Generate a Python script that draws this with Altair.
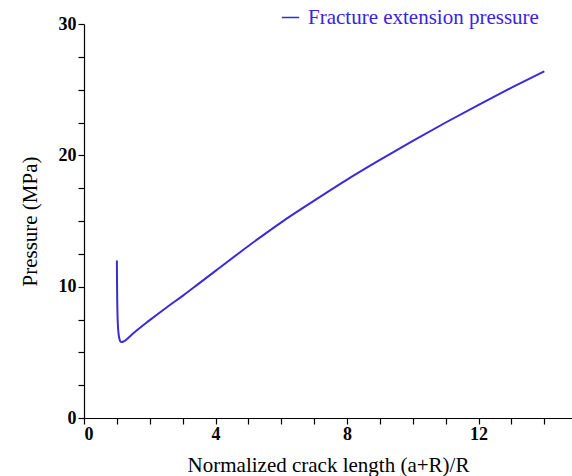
import altair as alt
import pandas as pd

# Normalized crack length (a+R)/R and the fracture extension pressure (MPa)
crack_length = [1.0, 1.005, 1.01, 1.02, 1.03, 1.05, 1.08, 1.12, 1.16, 1.22, 1.3, 1.5,
                2.0, 2.5, 3.0, 3.5, 4.0, 5.0, 6.0, 7.0, 8.0, 9.0, 10.0, 11.0,
                12.0, 13.0, 14.0]
pressure = [12.0, 10.2, 9.0, 7.8, 7.1, 6.45, 6.0, 5.8, 5.78, 5.85, 6.0, 6.45,
            7.45, 8.4, 9.3, 10.25, 11.2, 13.1, 14.9, 16.55, 18.15, 19.65, 21.1, 22.5,
            23.85, 25.15, 26.4]
series = ["Fracture extension pressure"] * len(crack_length)

df = pd.DataFrame({"x": crack_length, "p": pressure, "s": series})

x_ticks = list(range(0, 15))
y_ticks = [i * 2.5 for i in range(13)]

line_color = "#3a2ad8"
font = "Liberation Serif"

chart = alt.Chart(df).mark_line(strokeWidth=2, clip=True, interpolate="monotone").encode(
    x=alt.X("x:Q", scale=alt.Scale(domain=[0, 14.84], nice=False, zero=False),
            axis=alt.Axis(values=x_ticks,
                          labelExpr="datum.value % 4 == 0 ? datum.label : ''",
                          title="Normalized crack length (a+R)/R",
                          ticks=True, tickColor="black", tickOpacity=1,
                          grid=False, tickSize=6, labelPadding=1, titlePadding=11)),
    y=alt.Y("p:Q", scale=alt.Scale(domain=[0, 30], nice=False),
            axis=alt.Axis(values=y_ticks,
                          labelExpr="datum.value % 10 == 0 ? datum.label : ''",
                          title="Pressure (MPa)",
                          ticks=True, tickColor="black", tickOpacity=1,
                          grid=False, tickSize=6, labelPadding=2, titlePadding=18)),
    color=alt.Color("s:N", scale=alt.Scale(range=[line_color]),
                    legend=alt.Legend(title=None, orient="none", legendX=196, legendY=-17,
                                      symbolType="stroke", symbolSize=300,
                                      symbolStrokeWidth=1.5, labelFontSize=21,
                                      labelFont=font, labelColor="#3a22e0",
                                      labelLimit=400, labelOffset=7, padding=0)),
    order=alt.Order("x:Q"),
).properties(
    width=488, height=394,
    background="white",
    autosize=alt.AutoSizeParams(type="none"),
    padding={"left": 84, "top": 24, "right": 0, "bottom": 58},
).configure_view(stroke=None).configure_axis(
    domainColor="#000", labelColor="#000", titleColor="#000",
    labelFont=font, titleFont=font, labelFontSize=18, titleFontSize=21,
    labelFontWeight="bold", titleFontWeight="normal", domainWidth=1.2, tickWidth=1.2,
)

chart.save("out.html", embed_options={"renderer": "svg", "actions": False})
